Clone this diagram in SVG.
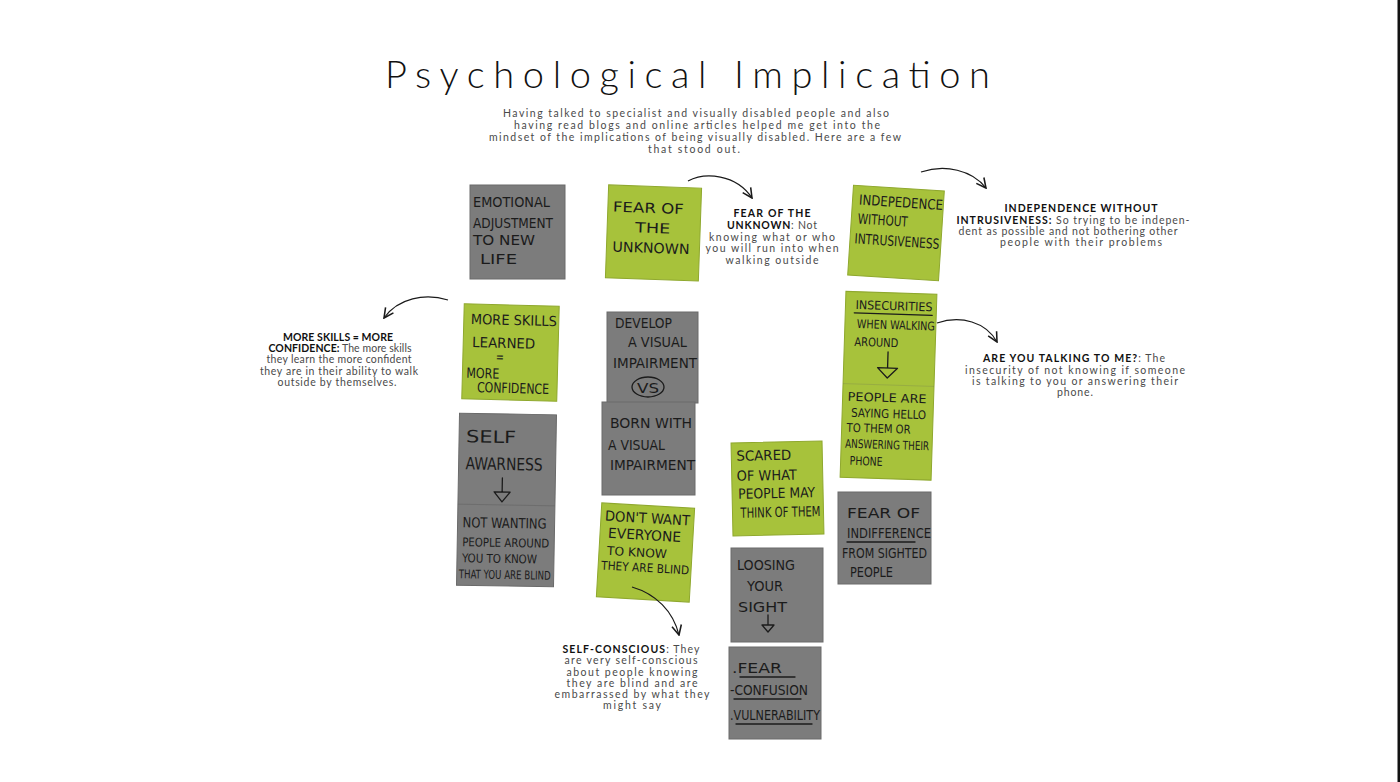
<svg xmlns="http://www.w3.org/2000/svg" width="1400" height="782" viewBox="0 0 1400 782">
<defs>
<style>
.bg{fill:#ffffff}
.gray{fill:#7c7c7c;stroke:#6a6a6a;stroke-width:1}
.green{fill:#a7c23b;stroke:#8fa82e;stroke-width:1}
.seam{stroke:#5e5e5e;stroke-width:0.8;opacity:0.6}
.hw{font-family:"DejaVu Sans Condensed","DejaVu Sans","Liberation Sans",sans-serif;font-size:14px;fill:#1b1b1b}
.hws{font-family:"DejaVu Sans Condensed","DejaVu Sans","Liberation Sans",sans-serif;font-size:12px;fill:#1b1b1b}
.hwb{font-family:"DejaVu Sans Condensed","DejaVu Sans","Liberation Sans",sans-serif;font-size:17px;fill:#1b1b1b}
.ink{fill:none;stroke:#1b1b1b;stroke-width:1.3;stroke-linecap:round;stroke-linejoin:round}
.title{font-family:"Lato","Open Sans",sans-serif;font-weight:300;font-size:38px;fill:#111}
.intro{font-family:"Lato","Open Sans",sans-serif;font-size:10.5px;fill:#4a4a4a;text-anchor:middle}
.ann{font-family:"Lato","Open Sans",sans-serif;font-size:10.5px;fill:#4a4a4a;text-anchor:middle}
.hd{font-weight:700;fill:#111}
.conn{fill:none;stroke:#1a1a1a;stroke-width:1.2;marker-end:url(#chev)}
</style>
<marker id="chev" viewBox="0 0 10 10" refX="9" refY="5" markerWidth="12" markerHeight="12" markerUnits="userSpaceOnUse" orient="auto">
<path d="M1,1 L9,5 L1,9" fill="none" stroke="#1a1a1a" stroke-width="1.3"/>
</marker>
</defs>
<rect class="bg" x="0" y="0" width="1400" height="782"/>
<rect x="1397.5" y="0" width="2.5" height="782" fill="#111"/>

<g id="title">
<text class="title" x="385" y="88" textLength="605">Psychological Implication</text>
</g>
<g id="intro">
<text class="intro" x="696" y="117" textLength="386">Having talked to specialist and visually disabled people and also</text>
<text class="intro" x="697" y="129" textLength="366">having read blogs and online articles helped me get into the</text>
<text class="intro" x="695" y="141" textLength="412">mindset of the implications of being visually disabled. Here are a few</text>
<text class="intro" x="694" y="153" textLength="92">that stood out.</text>
</g>

<g id="note-emotional">
<rect class="gray" x="470" y="185" width="95" height="94"/>
<text class="hw" x="473" y="207" textLength="77" lengthAdjust="spacingAndGlyphs">EMOTIONAL</text>
<text class="hw" x="473" y="228" textLength="80" lengthAdjust="spacingAndGlyphs">ADJUSTMENT</text>
<text class="hw" x="473" y="245" textLength="62" lengthAdjust="spacingAndGlyphs">TO NEW</text>
<text class="hw" x="480" y="264" textLength="37" lengthAdjust="spacingAndGlyphs">LIFE</text>
</g>

<g id="note-fear-unknown" transform="rotate(2 654 233)">
<rect class="green" x="607" y="186.5" width="93" height="93"/>
<text class="hw" x="612" y="213" textLength="71" lengthAdjust="spacingAndGlyphs">FEAR OF</text>
<text class="hw" x="635" y="233" textLength="35" lengthAdjust="spacingAndGlyphs">THE</text>
<text class="hw" x="613" y="253" textLength="77" lengthAdjust="spacingAndGlyphs">UNKNOWN</text>
</g>

<g id="note-more-skills" transform="rotate(1.5 510 352)">
<rect class="green" x="463" y="305" width="95" height="95"/>
<text class="hw" x="470" y="325" textLength="86" lengthAdjust="spacingAndGlyphs">MORE SKILLS</text>
<text class="hw" x="472" y="348" textLength="63" lengthAdjust="spacingAndGlyphs">LEARNED</text>
<text class="hw" x="496" y="362" textLength="8" lengthAdjust="spacingAndGlyphs">=</text>
<text class="hw" x="467" y="379" textLength="33" lengthAdjust="spacingAndGlyphs">MORE</text>
<text class="hw" x="478" y="393" textLength="72" lengthAdjust="spacingAndGlyphs">CONFIDENCE</text>
</g>

<g id="note-develop-vs-born">
<rect class="gray" x="607" y="312" width="91" height="91"/>
<rect class="gray" x="602" y="402" width="93" height="93"/>
<text class="hw" x="615" y="328" textLength="57" lengthAdjust="spacingAndGlyphs">DEVELOP</text>
<text class="hw" x="628" y="347" textLength="59" lengthAdjust="spacingAndGlyphs">A VISUAL</text>
<text class="hw" x="613" y="368" textLength="84" lengthAdjust="spacingAndGlyphs">IMPAIRMENT</text>
<ellipse class="ink" cx="648" cy="387" rx="16" ry="10"/>
<text class="hw" x="637" y="393" textLength="22" lengthAdjust="spacingAndGlyphs">VS</text>
<text class="hw" x="610" y="428" textLength="82" lengthAdjust="spacingAndGlyphs">BORN WITH</text>
<text class="hw" x="608" y="450" textLength="57" lengthAdjust="spacingAndGlyphs">A VISUAL</text>
<text class="hw" x="610" y="470" textLength="85" lengthAdjust="spacingAndGlyphs">IMPAIRMENT</text>
</g>

<g id="note-self-awareness" transform="rotate(1 506 500)">
<rect class="gray" x="458" y="414" width="97" height="172"/>
<line class="seam" x1="458" y1="505" x2="555" y2="505"/>
<text class="hwb" x="465" y="443" textLength="50" lengthAdjust="spacingAndGlyphs">SELF</text>
<text class="hwb" x="465" y="470" textLength="77" lengthAdjust="spacingAndGlyphs">AWARNESS</text>
<path class="ink" d="M502,478 L502,492 M494,492 L510,492 L502,502 Z"/>
<text class="hw" x="463" y="528" textLength="84" lengthAdjust="spacingAndGlyphs">NOT WANTING</text>
<text class="hws" x="463" y="547" textLength="87" lengthAdjust="spacingAndGlyphs">PEOPLE AROUND</text>
<text class="hws" x="463" y="563" textLength="75" lengthAdjust="spacingAndGlyphs">YOU TO KNOW</text>
<text class="hws" x="460" y="579" textLength="92" lengthAdjust="spacingAndGlyphs">THAT YOU ARE BLIND</text>
</g>

<g id="note-dont-want" transform="rotate(3.3 645.5 552.5)">
<rect class="green" x="599" y="505.5" width="93" height="94"/>
<text class="hw" x="603" y="523" textLength="85" lengthAdjust="spacingAndGlyphs">DON'T WANT</text>
<text class="hw" x="607" y="540" textLength="73" lengthAdjust="spacingAndGlyphs">EVERYONE</text>
<text class="hws" x="607" y="557" textLength="60" lengthAdjust="spacingAndGlyphs">TO KNOW</text>
<text class="hws" x="602" y="572" textLength="88" lengthAdjust="spacingAndGlyphs">THEY ARE BLIND</text>
</g>

<g id="note-independence" transform="rotate(3.7 896 233)">
<rect class="green" x="850.5" y="188" width="91" height="90"/>
<text class="hw" x="857" y="207" textLength="84" lengthAdjust="spacingAndGlyphs">INDEPEDENCE</text>
<text class="hw" x="857" y="226" textLength="50" lengthAdjust="spacingAndGlyphs">WITHOUT</text>
<text class="hw" x="855" y="246" textLength="85" lengthAdjust="spacingAndGlyphs">INTRUSIVENESS</text>
</g>

<g id="note-insecurities" transform="rotate(1.8 888.5 385.75)">
<rect class="green" x="843" y="292.75" width="91" height="186"/>
<line class="seam" x1="843" y1="385" x2="934" y2="385" style="opacity:0.25"/>
<text class="hws" x="853" y="310" textLength="77" lengthAdjust="spacingAndGlyphs">INSECURITIES</text>
<path class="ink" d="M852,314 L930,314"/>
<text class="hws" x="855" y="329" textLength="78" lengthAdjust="spacingAndGlyphs">WHEN WALKING</text>
<text class="hws" x="853" y="347" textLength="44" lengthAdjust="spacingAndGlyphs">AROUND</text>
<path class="ink" d="M887,352 L887,368 M877,368 L897,368 L887,378 Z"/>
<text class="hws" x="848" y="402" textLength="79" lengthAdjust="spacingAndGlyphs">PEOPLE ARE</text>
<text class="hws" x="852" y="418" textLength="75" lengthAdjust="spacingAndGlyphs">SAYING HELLO</text>
<text class="hws" x="848" y="433" textLength="64" lengthAdjust="spacingAndGlyphs">TO THEM OR</text>
<text class="hws" x="847" y="449" textLength="84" lengthAdjust="spacingAndGlyphs">ANSWERING THEIR</text>
<text class="hws" x="852" y="466" textLength="33" lengthAdjust="spacingAndGlyphs">PHONE</text>
</g>

<g id="note-scared" transform="rotate(-1.2 777.5 488.5)">
<rect class="green" x="732" y="442" width="91" height="93"/>
<text class="hw" x="737" y="460" textLength="55" lengthAdjust="spacingAndGlyphs">SCARED</text>
<text class="hw" x="737" y="480" textLength="60" lengthAdjust="spacingAndGlyphs">OF WHAT</text>
<text class="hw" x="738" y="498" textLength="77" lengthAdjust="spacingAndGlyphs">PEOPLE MAY</text>
<text class="hw" x="740" y="517" textLength="80" lengthAdjust="spacingAndGlyphs">THINK OF THEM</text>
</g>

<g id="note-fear-indifference">
<rect class="gray" x="838" y="492" width="93" height="92"/>
<text class="hw" x="847" y="518" textLength="73" lengthAdjust="spacingAndGlyphs">FEAR OF</text>
<text class="hw" x="847" y="538" textLength="84" lengthAdjust="spacingAndGlyphs">INDIFFERENCE</text>
<path class="ink" d="M847,542 L915,542"/>
<text class="hw" x="842" y="558" textLength="85" lengthAdjust="spacingAndGlyphs">FROM SIGHTED</text>
<text class="hw" x="850" y="577" textLength="43" lengthAdjust="spacingAndGlyphs">PEOPLE</text>
</g>

<g id="note-loosing-sight">
<rect class="gray" x="731" y="548" width="92" height="94"/>
<text class="hw" x="737" y="570" textLength="58" lengthAdjust="spacingAndGlyphs">LOOSING</text>
<text class="hw" x="747" y="591" textLength="36" lengthAdjust="spacingAndGlyphs">YOUR</text>
<text class="hw" x="738" y="612" textLength="49" lengthAdjust="spacingAndGlyphs">SIGHT</text>
<path class="ink" d="M768,615 L768,625 M762,625 L774,625 L768,632 Z"/>
</g>

<g id="note-fear-confusion">
<rect class="gray" x="729" y="647" width="92" height="92"/>
<text class="hw" x="732" y="673" textLength="50" lengthAdjust="spacingAndGlyphs">.FEAR</text>
<path class="ink" d="M740,677 L795,677"/>
<text class="hw" x="730" y="695" textLength="78" lengthAdjust="spacingAndGlyphs">-CONFUSION</text>
<path class="ink" d="M734,699 L801,699"/>
<text class="hw" x="730" y="720" textLength="90" lengthAdjust="spacingAndGlyphs">.VULNERABILITY</text>
<path class="ink" d="M736,724 L812,724"/>
</g>

<g id="ann-fear-unknown">
<text class="ann" x="772" y="217" textLength="77"><tspan class="hd">FEAR OF THE</tspan></text>
<text class="ann" x="772" y="229" textLength="90"><tspan class="hd">UNKNOWN</tspan>: Not</text>
<text class="ann" x="772" y="241" textLength="126">knowing what or who</text>
<text class="ann" x="772" y="252" textLength="133">you will run into when</text>
<text class="ann" x="772" y="264" textLength="93">walking outside</text>
</g>

<g id="ann-independence">
<text class="ann" x="1081" y="212" textLength="153"><tspan class="hd">INDEPENDENCE WITHOUT</tspan></text>
<text class="ann" x="1073" y="224" textLength="233"><tspan class="hd">INTRUSIVENESS:</tspan> So trying to be indepen-</text>
<text class="ann" x="1068" y="235" textLength="219">dent as possible and not bothering other</text>
<text class="ann" x="1081" y="246" textLength="162">people with their problems</text>
</g>

<g id="ann-talking">
<text class="ann" x="1074" y="362" textLength="182"><tspan class="hd">ARE YOU TALKING TO ME?</tspan>: The</text>
<text class="ann" x="1075" y="374" textLength="220">insecurity of not knowing if someone</text>
<text class="ann" x="1075" y="385" textLength="206">is talking to you or answering their</text>
<text class="ann" x="1075" y="396" textLength="36">phone.</text>
</g>

<g id="ann-more-skills">
<text class="ann" x="338" y="341" textLength="110"><tspan class="hd">MORE SKILLS = MORE</tspan></text>
<text class="ann" x="340" y="352" textLength="143"><tspan class="hd">CONFIDENCE:</tspan> The more skills</text>
<text class="ann" x="339" y="363" textLength="145">they learn the more confident</text>
<text class="ann" x="339" y="375" textLength="158">they are in their ability to walk</text>
<text class="ann" x="337" y="386" textLength="119">outside by themselves.</text>
</g>

<g id="ann-self-conscious">
<text class="ann" x="631" y="653" textLength="137"><tspan class="hd">SELF-CONSCIOUS</tspan>: They</text>
<text class="ann" x="631" y="664" textLength="133">are very self-conscious</text>
<text class="ann" x="632" y="676" textLength="131">about people knowing</text>
<text class="ann" x="632" y="687" textLength="131">they are blind and are</text>
<text class="ann" x="632" y="698" textLength="155">embarrassed by what they</text>
<text class="ann" x="632" y="709" textLength="58">might say</text>
</g>

<g id="connectors">
<path class="conn" d="M688,181 C705,172 736,174 752,198"/>
<path class="conn" d="M921,172 C945,164 972,170 986,188"/>
<path class="conn" d="M448,300 C425,293 398,298 384,318"/>
<path class="conn" d="M937,323 C961,315 986,322 997,342"/>
<path class="conn" d="M632,587 C656,594 673,611 679,635"/>
</g>
</svg>
